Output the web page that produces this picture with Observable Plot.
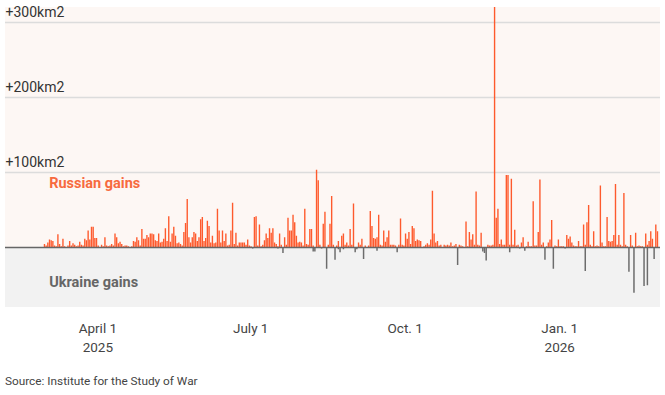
<!DOCTYPE html>
<html>
<head>
<meta charset="utf-8">
<script src="https://cdn.jsdelivr.net/npm/d3@7"></script>
<script src="https://cdn.jsdelivr.net/npm/@observablehq/plot@0.6"></script>
<style>
  body { margin: 0; background: #fff; }
  #caption { font-family: "Liberation Sans Narrow", Roboto, sans-serif; font-size: 11.8px; line-height: 16px; color: #444; margin: 13px 0 0 5px; }
</style>
</head>
<body>
<div id="chart"></div>
<div id="caption">Source: Institute for the Study of War</div>
<script>
const startDate = "2025-02-28";
const russianGains = [
  4,2,6,10,9,8,2,1,17,4,
  1,11,1,0,2,8,2,5,3,1,
  2,7,3,2,11,9,22,10,27,27,
  12,12,2,0,3,1,13,2,1,2,
  4,2,18,13,5,7,4,1,2,2,
  1,0,1,8,7,13,9,2,24,11,
  11,16,13,18,18,17,9,8,18,6,
  7,11,25,8,41,7,18,27,15,5,
  6,4,2,20,32,64,13,6,13,20,
  18,8,13,37,40,8,12,35,28,6,
  15,5,6,51,22,6,22,8,18,2,
  3,22,59,4,19,2,6,6,6,6,
  3,10,2,1,0,40,41,2,30,1,
  3,9,18,12,25,19,25,6,4,1,
  18,3,0,13,3,39,22,22,43,33,
  15,6,7,6,2,51,4,3,24,24,
  2,0,103,89,3,0,31,47,0,3,
  31,68,3,0,2,8,0,15,18,3,
  6,2,24,3,58,0,0,6,3,11,
  0,2,0,2,48,28,12,11,13,43,
  3,2,22,7,13,22,3,3,3,2,
  0,3,38,3,2,18,11,20,4,28,
  25,8,10,9,8,0,1,3,5,3,
  10,75,18,6,8,2,3,0,3,2,
  3,2,6,1,2,4,0,3,2,1,
  0,34,1,20,10,17,3,74,3,2,
  19,0,0,0,3,2,2,3,320,39,
  51,4,10,3,3,96,96,3,91,3,
  23,2,3,0,6,13,0,1,7,1,
  1,61,2,2,20,90,3,6,0,1,
  6,10,36,0,2,1,10,1,1,1,
  0,16,11,14,6,2,1,1,8,1,
  1,30,3,33,56,3,1,21,1,2,
  1,82,6,1,1,40,8,7,8,16,
  84,3,16,3,1,72,3,1,0,16,
  2,0,19,1,2,1,1,0,18,3,
  8,21,11,0,30,21
];
const ukraineDays = [12,33,51,82,124,129,139,142,160,161,165,168,173,175,176,178,185,186,190,192,198,210,225,237,246,250,252,261,262,263,277,283,286,298,303,310,322,348,351,357,359,363];
const ukraineGains = [-1,-1,-1,-1,-2,-1,-2,-8,-6,-6,-2,-29,-17,-3,-7,-3,-7,-3,-16,-1,-5,-7,-1,-1,-24,-1,-1,-6,-8,-18,-7,-2,-5,-17,-29,-2,-32,-33,-61,-52,-51,-16];
const yTicks = [100, 200, 300];
const yDomain = [-80, 320];
const xDomain = ["2025-02-05", "2026-03-02"];
const xTicks = ["2025-04-01", "2025-07-01", "2025-10-01", "2026-01-01"];
const xTickLabels = ["April 1\n2025", "July 1", "Oct. 1", "Jan. 1\n2026"];

const start = new Date(startDate + "T00:00:00Z");
const rus = russianGains.map((v, i) => ({date: d3.utcDay.offset(start, i), value: v}));
const ukr = ukraineDays.map((d, i) => ({date: d3.utcDay.offset(start, d), value: ukraineGains[i]}));
const tickDates = xTicks.map(s => new Date(s + "T00:00:00Z"));
const tickLabelMap = new Map(tickDates.map((d, i) => [+d, xTickLabels[i]]));
const bands = [
  {lo: 0, hi: yDomain[1], fill: "#fdf7f4"},
  {lo: yDomain[0], hi: 0, fill: "#f2f2f2"}
];
const condensed = '"Liberation Sans Narrow", Roboto, sans-serif';

const chart = Plot.plot({
  width: 665,
  height: 360,
  marginTop: 7,
  marginBottom: 53,
  marginLeft: 5,
  marginRight: 5,
  style: {fontFamily: "Roboto, sans-serif", background: "#fff"},
  x: {type: "utc", domain: xDomain.map(s => new Date(s + "T00:00:00Z"))},
  y: {domain: yDomain, axis: null},
  marks: [
    Plot.rect(bands, {y1: "lo", y2: "hi", fill: "fill"}),
    Plot.ruleY(yTicks, {stroke: "#dcdcdc", strokeWidth: 1.5}),
    Plot.rectY(rus, {x: "date", y: "value", interval: d3.utcDay, fill: "#fe5a2d", insetLeft: 0.15, insetRight: 0.15}),
    Plot.rectY(ukr, {x: "date", y: "value", interval: d3.utcDay, fill: "#6c6c6c", insetLeft: 0.1, insetRight: 0.1}),
    Plot.ruleY([0], {stroke: "#666", strokeWidth: 1.5}),
    Plot.text(yTicks, {y: d => d, text: d => `+${d}km2`, frameAnchor: "left", textAnchor: "start", dy: -10, fontSize: 14, fill: "#333"}),
    Plot.text([{date: new Date("2025-03-03T00:00:00Z"), value: 85, label: "Russian gains"}], {x: "date", y: "value", text: "label", textAnchor: "start", fontSize: 14.5, fontWeight: "bold", fill: "#f76a3f"}),
    Plot.text([{date: new Date("2025-03-03T00:00:00Z"), value: -47, label: "Ukraine gains"}], {x: "date", y: "value", text: "label", textAnchor: "start", fontSize: 14.5, fontWeight: "bold", fill: "#666"}),
    Plot.axisX({ticks: tickDates, tickFormat: d => tickLabelMap.get(+d), tickSize: 0, tickPadding: 12, fontSize: 13.5, lineHeight: 1.4, fontFamily: condensed, fill: "#444", label: null})
  ]
});
document.getElementById("chart").appendChild(chart);
</script>
</body>
</html>
